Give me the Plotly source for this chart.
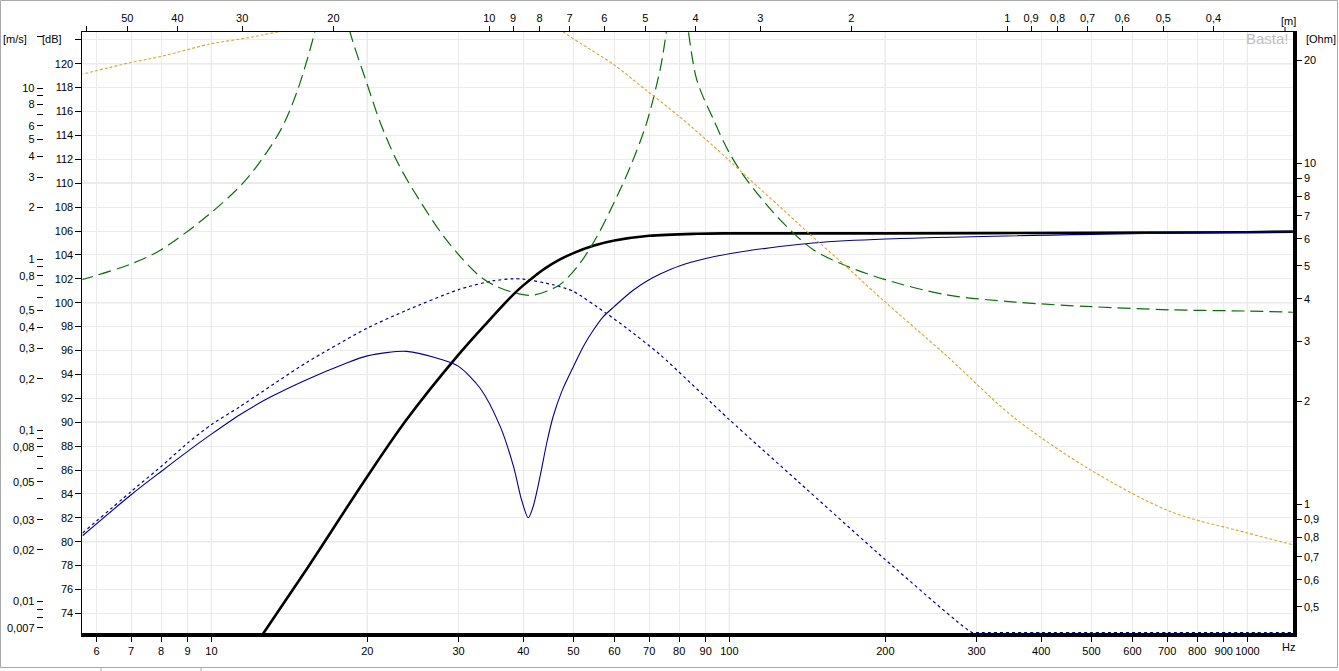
import math
import plotly.graph_objects as go

# ---------------- data ----------------
# total SPL (black, dB)
spl_f = [5.64, 8, 10, 12.63, 15.27, 20, 23.8, 30, 34, 38.3, 40, 42, 44, 47, 50, 55, 60, 70, 86.5, 100, 200, 500, 1000, 1224]
spl_db = [49.5, 60.0, 65.8, 72.4, 77.7, 85.46, 90.2, 95.65, 98.3, 100.7, 101.45, 102.2, 102.85, 103.6, 104.15, 104.8, 105.2,
          105.6, 105.77, 105.8, 105.8, 105.85, 105.9, 105.95]

# driver SPL (blue solid, dB)
drv_f = [5.64, 7, 8, 9, 10, 11.35, 13, 15.27, 18, 20, 23.8, 27.6, 30, 33, 36.1, 38.3, 39.7, 40.9, 41.8, 43.1, 44.4, 45.7, 47.5,
         50, 52.5, 54.6, 57, 60, 65, 69.2, 73.5, 80.3, 90, 100, 125, 145, 200, 500, 1000, 1224]
drv_db = [80.5, 83.93, 85.88, 87.56, 89.0, 90.63, 92.1, 93.56, 94.85, 95.55, 95.93, 95.29, 94.67, 92.86, 89.65, 86.3, 83.5,
          82.0, 82.95, 85.46, 88.26, 90.5, 92.6, 94.67, 96.5, 97.7, 98.8, 99.7, 101.0, 101.8, 102.4, 103.1, 103.7, 104.1,
          104.7, 105.0, 105.33, 105.72, 105.9, 105.95]

# port SPL (blue dotted, dB)
port_f = [5.64, 7, 8, 9, 10, 11.35, 15.27, 20, 23.8, 30, 35, 38.3, 40, 45.7, 50, 57.9, 63.3, 73.5, 100, 136, 200, 294,
          300, 400, 500, 700, 1000, 1224]
port_db = [80.73, 84.2, 86.3, 88.26, 89.8, 91.3, 95.0, 97.88, 99.36, 101.1, 101.84, 102.0, 101.98, 101.5, 100.95, 99.1, 97.88,
           95.65, 90.21, 85.0, 78.5, 72.4, 72.4, 72.4, 72.4, 72.4, 72.4, 72.4]

# impedance (green dashed, Ohm)
imp_f = [5.58, 7, 8, 10, 11.7, 13.56, 14.6, 15.73, 17.1, 18.52, 20, 21.2, 22.76, 24.5, 28.4, 33, 36.1, 40, 42, 47, 51.5, 55.5,
         59.6, 64.4, 69.2, 73.5, 79.5, 86.5, 93.2, 100, 108, 125.2, 145.2, 168.8, 200, 261.6, 355.6, 500, 709.5, 1000, 1224]
imp_ohm = [4.53, 5.06, 5.57, 7.16, 8.98, 12.38, 16.04, 23.3, 40.0, 24.2, 16.97, 13.1, 10.2, 8.35, 5.96, 4.65, 4.30, 4.11, 4.10,
           4.39, 5.09, 6.09, 7.54, 9.77, 13.1, 18.8, 35.0, 17.55, 13.4, 10.7, 8.93, 6.82, 5.57, 4.98, 4.55, 4.11, 3.91, 3.79,
           3.71, 3.68, 3.65]

# port air velocity (orange dotted, m/s)
vel_f = [5.58, 7, 8, 10, 11.7, 13.37, 20, 30, 38, 44, 47.8, 51.5, 59.6, 69.2, 80.3, 93.2, 100, 108, 125.2, 145.2, 166.2, 200,
         261.6, 355.6, 500, 709.5, 1000, 1224]
vel_ms = [11.96, 14.1, 15.3, 18.15, 19.6, 21.2, 26.5, 30.0, 29.0, 24.8, 21.2, 18.3, 13.8, 9.66, 6.76, 4.57, 3.76, 3.03, 2.02,
          1.34, 0.933, 0.56, 0.275, 0.1175, 0.0582, 0.0335, 0.0251, 0.0214]

# axis ticks
hz_ticks = [6, 7, 8, 9, 10, 20, 30, 40, 50, 60, 70, 80, 90, 100, 200, 300, 400, 500, 600, 700, 800, 900, 1000]
hz_major = [10, 20, 50, 100, 200, 500, 1000]
wl_ticks = [60, 50, 40, 30, 20, 10, 9, 8, 7, 6, 5, 4, 3, 2, 1, 0.9, 0.8, 0.7, 0.6, 0.5, 0.4]
wl_labels = ["", "50", "40", "30", "20", "10", "9", "8", "7", "6", "5", "4", "3", "2", "1",
             "0,9", "0,8", "0,7", "0,6", "0,5", "0,4"]
sound_speed = 344.0
db_ticks = list(range(74, 123, 2))
db_labels = [str(v) for v in range(74, 121, 2)] + [""]
db_major = [80, 90, 100, 110, 120]
ohm_ticks = [20, 10, 9, 8, 7, 6, 5, 4, 3, 2, 1, 0.9, 0.8, 0.7, 0.6, 0.5]
ohm_labels = ["20", "10", "9", "8", "7", "6", "5", "4", "3", "2", "1", "0,9", "0,8", "0,7", "0,6", "0,5"]
db_right_ticks = [118, 114, 94, 90, 88, 86, 84]
ms_ticks = [20, 10, 9, 8, 7, 6, 5, 4, 3, 2, 1, 0.9, 0.8, 0.7, 0.6, 0.5, 0.4, 0.3, 0.2, 0.1, 0.09, 0.08, 0.07, 0.06,
            0.05, 0.04, 0.03, 0.02, 0.01, 0.009, 0.008, 0.007]
ms_labels = ["", "10", "", "8", "", "6", "5", "4", "3", "2", "1", "", "0,8", "", "", "0,5", "0,4", "0,3", "0,2", "0,1",
             "", "0,08", "", "", "0,05", "", "0,03", "0,02", "0,01", "", "", "0,007"]

# ---------------- layout geometry ----------------
W, H = 1339, 671
ML, MR, MT, MB = 20, 46, 32, 38
PW, PH = W - ML - MR, H - MT - MB


def px(x):
    return (x - ML) / PW


def py(y):
    return 1 - (y - MT) / PH


FONT = dict(family="Liberation Sans, Arial, sans-serif", size=11, color="black")
X_RANGE = [0.751, 3.088]
DB_RANGE = [72.36, 122.653]
OHM_RANGE = [-0.3783, 1.3842]
MS_RANGE = [-2.1853, 1.3273]
SM = 0.9

fig = go.Figure()

fig.add_trace(go.Scatter(x=imp_f, y=imp_ohm, xaxis="x", yaxis="y2", mode="lines",
                         line=dict(color="#0B6E0B", width=1.2, dash="13px,6px", shape="spline", smoothing=SM),
                         hoverinfo="skip"))
fig.add_trace(go.Scatter(x=vel_f, y=vel_ms, xaxis="x", yaxis="y3", mode="lines",
                         line=dict(color="#D9A52A", width=1.1, dash="3px,2px", shape="spline", smoothing=SM),
                         hoverinfo="skip"))
fig.add_trace(go.Scatter(x=port_f, y=port_db, xaxis="x", yaxis="y", mode="lines",
                         line=dict(color="#000090", width=1.2, dash="3px,3px", shape="spline", smoothing=0.6),
                         hoverinfo="skip"))
fig.add_trace(go.Scatter(x=spl_f, y=spl_db, xaxis="x", yaxis="y", mode="lines",
                         line=dict(color="black", width=2.6, shape="spline", smoothing=SM), hoverinfo="skip"))
fig.add_trace(go.Scatter(x=drv_f, y=drv_db, xaxis="x", yaxis="y", mode="lines",
                         line=dict(color="#000090", width=1.1, shape="spline", smoothing=0.8), hoverinfo="skip"))
# invisible trace to activate the top axis
fig.add_trace(go.Scatter(x=[10], y=[100], xaxis="x2", yaxis="y", mode="markers",
                         marker=dict(opacity=0), hoverinfo="skip"))

dom0 = px(82.4)
fig.update_layout(
    width=W, height=H, template="none",
    paper_bgcolor="white", plot_bgcolor="white",
    margin=dict(l=ML, r=MR, t=MT, b=MB, pad=0),
    showlegend=False, font=FONT,
    xaxis=dict(type="log", range=X_RANGE, domain=[dom0, 1], tickvals=hz_ticks,
               ticktext=[str(v) for v in hz_ticks], tickangle=0,
               ticks="outside", ticklen=5, tickwidth=1, tickcolor="black",
               showline=True, linecolor="black", linewidth=3.5,
               showgrid=True, gridcolor="#EBEBEB", gridwidth=1, zeroline=False,
               automargin=False, tickfont=FONT, anchor="y"),
    xaxis2=dict(type="log", range=X_RANGE, domain=[dom0, 1], overlaying="x", side="top", anchor="y",
                tickvals=[sound_speed / w for w in wl_ticks], ticktext=wl_labels, tickangle=0,
                ticks="outside", ticklen=5, tickwidth=1, tickcolor="black",
                showline=True, linecolor="black", linewidth=1,
                showgrid=False, zeroline=False, automargin=False, tickfont=FONT),
    yaxis=dict(range=DB_RANGE, tickvals=db_ticks, ticktext=db_labels,
               ticks="outside", ticklen=6, tickwidth=1, tickcolor="black",
               showline=True, linecolor="black", linewidth=1,
               showgrid=True, gridcolor="#EBEBEB", gridwidth=1, zeroline=False,
               automargin=False, tickfont=FONT, anchor="x"),
    yaxis2=dict(type="log", range=OHM_RANGE, overlaying="y", side="right", anchor="x",
                tickvals=ohm_ticks, ticktext=ohm_labels,
                ticks="outside", ticklen=5, tickwidth=1, tickcolor="black",
                showline=True, linecolor="black", linewidth=3.5,
                showgrid=False, zeroline=False, automargin=False, tickfont=FONT),
    yaxis3=dict(type="log", range=MS_RANGE, overlaying="y", side="left", anchor="free", position=px(42.7),
                tickvals=ms_ticks, ticktext=ms_labels,
                ticks="outside", ticklen=6, tickwidth=1, tickcolor="black",
                showline=False, showgrid=False, zeroline=False, automargin=False, tickfont=FONT),
    yaxis4=dict(range=DB_RANGE, overlaying="y", side="right", anchor="x",
                tickvals=db_right_ticks, showticklabels=False,
                ticks="outside", ticklen=5, tickwidth=1, tickcolor="black",
                showline=False, showgrid=False, zeroline=False, automargin=False),
)

shapes = []
for v in hz_major:
    shapes.append(dict(type="line", xref="x", yref="paper", x0=v, x1=v, y0=0, y1=1,
                       line=dict(color="#BDBDBD", width=1), layer="between"))
for v in db_major:
    shapes.append(dict(type="line", xref="paper", yref="y", x0=dom0, x1=1, y0=v, y1=v,
                       line=dict(color="#BDBDBD", width=1), layer="between"))
# tick for the [m] unit label on the top axis
shapes.append(dict(type="line", xref="paper", yref="paper", x0=px(1285), x1=px(1285), y0=py(32), y1=py(27),
                   line=dict(color="black", width=1)))
# window frame and status bar
shapes.append(dict(type="rect", xref="paper", yref="paper", x0=px(0.5), x1=px(1337.5), y0=py(0.5), y1=py(667.5),
                   line=dict(color="#A8A8A8", width=1)))
for sx in [101, 201]:
    shapes.append(dict(type="line", xref="paper", yref="paper", x0=px(sx), x1=px(sx), y0=py(668), y1=py(671),
                       line=dict(color="#A8A8A8", width=1)))
fig.update_layout(shapes=shapes)

ann = [
    dict(text="[m/s]", x=px(14.7), y=py(39.3)),
    dict(text="[dB]", x=px(52.2), y=py(39.3)),
    dict(text="[Ohm]", x=px(1321), y=py(39.2)),
    dict(text="[m]", x=px(1288), y=py(20.7)),
    dict(text="Hz", x=px(1288), y=py(646.7)),
]
annotations = []
for a in ann:
    annotations.append(dict(text=a["text"], x=a["x"], y=a["y"], xref="paper", yref="paper",
                            showarrow=False, xanchor="center", yanchor="middle", font=FONT))
annotations.append(dict(text="Basta!", x=px(1267), y=py(39), xref="paper", yref="paper", showarrow=False,
                        xanchor="center", yanchor="middle",
                        font=dict(family="Liberation Sans, Arial, sans-serif", size=15, color="#BEBEBE")))
fig.update_layout(annotations=annotations)

fig.write_html("out.html", config={"displayModeBar": False},
               post_script="document.body.style.margin='0';document.body.style.overflow='hidden';")
